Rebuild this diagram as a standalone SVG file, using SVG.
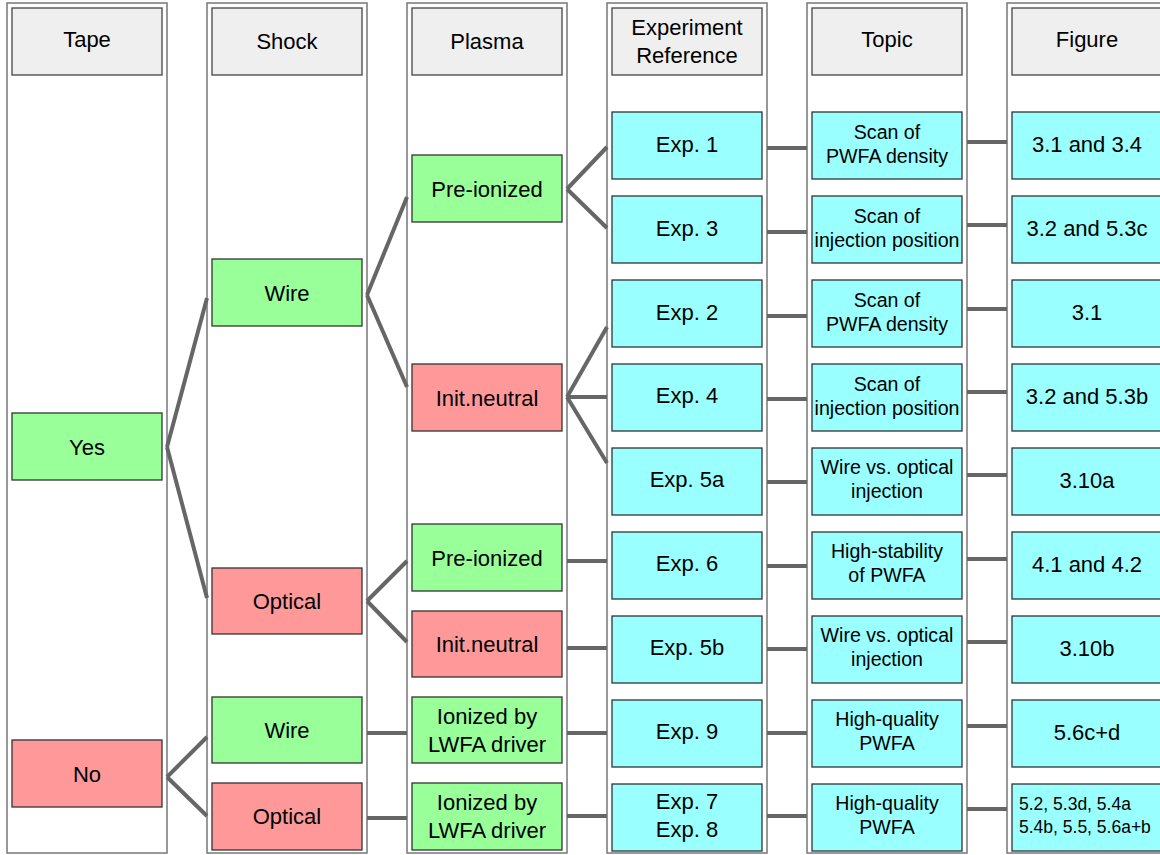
<svg xmlns="http://www.w3.org/2000/svg" width="1160" height="855" viewBox="0 0 1160 855">
<style>
.frame{fill:#fff;stroke:#777;stroke-width:1.5}
.hdr{fill:#efefef;stroke:#444;stroke-width:1.3}
.g{fill:#99ff99;stroke:#333;stroke-width:1.3}
.r{fill:#ff9999;stroke:#333;stroke-width:1.3}
.c{fill:#99ffff;stroke:#333;stroke-width:1.3}
text{font-family:"Liberation Sans",Arial,sans-serif;fill:#000;text-anchor:middle}
.t20{font-size:22px}
.t18{font-size:19.6px}
.t16{font-size:17.5px;text-anchor:start}
#connectors line{stroke:#666;stroke-width:4}
</style>
<rect width="1160" height="855" fill="#fff"/>
<g id="frames">
<rect class="frame" x="7" y="3" width="160" height="850"/>
<rect class="frame" x="207" y="3" width="160" height="850"/>
<rect class="frame" x="407" y="3" width="160" height="850"/>
<rect class="frame" x="607" y="3" width="160" height="850"/>
<rect class="frame" x="807" y="3" width="160" height="850"/>
<rect class="frame" x="1007" y="3" width="160" height="850"/>
</g>
<g id="connectors">
<line x1="167" y1="447" x2="207" y2="298"/>
<line x1="167" y1="447" x2="207" y2="598"/>
<line x1="167" y1="777" x2="207" y2="737"/>
<line x1="167" y1="777" x2="207" y2="816"/>
<line x1="367" y1="295" x2="407" y2="197"/>
<line x1="367" y1="295" x2="407" y2="387"/>
<line x1="367" y1="601" x2="407" y2="561"/>
<line x1="367" y1="601" x2="407" y2="642"/>
<line x1="367" y1="733" x2="407" y2="733"/>
<line x1="367" y1="818" x2="407" y2="818"/>
<line x1="567" y1="189" x2="607" y2="147"/>
<line x1="567" y1="189" x2="607" y2="228"/>
<line x1="567" y1="397" x2="607" y2="327"/>
<line x1="567" y1="397" x2="607" y2="397"/>
<line x1="567" y1="397" x2="607" y2="463"/>
<line x1="567" y1="561" x2="607" y2="561"/>
<line x1="567" y1="648" x2="607" y2="648"/>
<line x1="567" y1="733" x2="607" y2="733"/>
<line x1="567" y1="816" x2="607" y2="816"/>
<line x1="767" y1="148" x2="807" y2="148"/>
<line x1="767" y1="232" x2="807" y2="232"/>
<line x1="767" y1="316" x2="807" y2="316"/>
<line x1="767" y1="399" x2="807" y2="399"/>
<line x1="767" y1="482" x2="807" y2="482"/>
<line x1="767" y1="566" x2="807" y2="566"/>
<line x1="767" y1="649" x2="807" y2="649"/>
<line x1="767" y1="733" x2="807" y2="733"/>
<line x1="767" y1="816" x2="807" y2="816"/>
<line x1="967" y1="142" x2="1007" y2="142"/>
<line x1="967" y1="225" x2="1007" y2="225"/>
<line x1="967" y1="309" x2="1007" y2="309"/>
<line x1="967" y1="392" x2="1007" y2="392"/>
<line x1="967" y1="475" x2="1007" y2="475"/>
<line x1="967" y1="559" x2="1007" y2="559"/>
<line x1="967" y1="642" x2="1007" y2="642"/>
<line x1="967" y1="726" x2="1007" y2="726"/>
<line x1="967" y1="809" x2="1007" y2="809"/>
</g>
<g id="h-tape"><rect class="hdr" x="12" y="8" width="150" height="67"/><text class="t20" x="87" y="47">Tape</text></g>
<g id="h-shock"><rect class="hdr" x="212" y="8" width="150" height="67"/><text class="t20" x="287" y="49">Shock</text></g>
<g id="h-plasma"><rect class="hdr" x="412" y="8" width="150" height="67"/><text class="t20" x="487" y="49">Plasma</text></g>
<g id="h-exp"><rect class="hdr" x="612" y="8" width="150" height="67"/><text class="t20" x="687" y="35">Experiment</text><text class="t20" x="687" y="63">Reference</text></g>
<g id="h-topic"><rect class="hdr" x="812" y="8" width="150" height="67"/><text class="t20" x="887" y="47">Topic</text></g>
<g id="h-figure"><rect class="hdr" x="1012" y="8" width="150" height="67"/><text class="t20" x="1087" y="47">Figure</text></g>

<g id="tape-yes"><rect class="g" x="12" y="413" width="150" height="67"/><text class="t20" x="87" y="455">Yes</text></g>
<g id="tape-no"><rect class="r" x="12" y="740" width="150" height="67"/><text class="t20" x="87" y="782">No</text></g>

<g id="shock-wire1"><rect class="g" x="212" y="259" width="150" height="67"/><text class="t20" x="287" y="301">Wire</text></g>
<g id="shock-optical1"><rect class="r" x="212" y="568" width="150" height="66"/><text class="t20" x="287" y="609">Optical</text></g>
<g id="shock-wire2"><rect class="g" x="212" y="697" width="150" height="66"/><text class="t20" x="287" y="738">Wire</text></g>
<g id="shock-optical2"><rect class="r" x="212" y="783" width="150" height="67"/><text class="t20" x="287" y="824">Optical</text></g>

<g id="plasma-pre1"><rect class="g" x="412" y="155" width="150" height="67"/><text class="t20" x="487" y="197">Pre-ionized</text></g>
<g id="plasma-neu1"><rect class="r" x="412" y="364" width="150" height="67"/><text class="t20" x="487" y="406">Init.neutral</text></g>
<g id="plasma-pre2"><rect class="g" x="412" y="524" width="150" height="67"/><text class="t20" x="487" y="566">Pre-ionized</text></g>
<g id="plasma-neu2"><rect class="r" x="412" y="611" width="150" height="66"/><text class="t20" x="487" y="652">Init.neutral</text></g>
<g id="plasma-ion1"><rect class="g" x="412" y="697" width="150" height="66"/><text class="t20" x="487" y="724">Ionized by</text><text class="t20" x="487" y="752">LWFA driver</text></g>
<g id="plasma-ion2"><rect class="g" x="412" y="783" width="150" height="67"/><text class="t20" x="487" y="810">Ionized by</text><text class="t20" x="487" y="838">LWFA driver</text></g>

<g id="exp1"><rect class="c" x="612" y="112" width="150" height="67"/><text class="t20" x="687" y="152">Exp. 1</text></g>
<g id="exp3"><rect class="c" x="612" y="196" width="150" height="67"/><text class="t20" x="687" y="236">Exp. 3</text></g>
<g id="exp2"><rect class="c" x="612" y="280" width="150" height="67"/><text class="t20" x="687" y="320">Exp. 2</text></g>
<g id="exp4"><rect class="c" x="612" y="364" width="150" height="67"/><text class="t20" x="687" y="403">Exp. 4</text></g>
<g id="exp5a"><rect class="c" x="612" y="448" width="150" height="67"/><text class="t20" x="687" y="487">Exp. 5a</text></g>
<g id="exp6"><rect class="c" x="612" y="532" width="150" height="67"/><text class="t20" x="687" y="571">Exp. 6</text></g>
<g id="exp5b"><rect class="c" x="612" y="616" width="150" height="67"/><text class="t20" x="687" y="655">Exp. 5b</text></g>
<g id="exp9"><rect class="c" x="612" y="700" width="150" height="67"/><text class="t20" x="687" y="739">Exp. 9</text></g>
<g id="exp78"><rect class="c" x="612" y="784" width="150" height="67"/><text class="t20" x="687" y="809">Exp. 7</text><text class="t20" x="687" y="837">Exp. 8</text></g>

<g id="topic1"><rect class="c" x="812" y="112" width="150" height="67"/><text class="t18" x="887" y="139">Scan of</text><text class="t18" x="887" y="163">PWFA density</text></g>
<g id="topic2"><rect class="c" x="812" y="196" width="150" height="67"/><text class="t18" x="887" y="223">Scan of</text><text class="t18" x="887" y="247">injection position</text></g>
<g id="topic3"><rect class="c" x="812" y="280" width="150" height="67"/><text class="t18" x="887" y="307">Scan of</text><text class="t18" x="887" y="331">PWFA density</text></g>
<g id="topic4"><rect class="c" x="812" y="364" width="150" height="67"/><text class="t18" x="887" y="391">Scan of</text><text class="t18" x="887" y="415">injection position</text></g>
<g id="topic5"><rect class="c" x="812" y="448" width="150" height="67"/><text class="t18" x="887" y="474">Wire vs. optical</text><text class="t18" x="887" y="498">injection</text></g>
<g id="topic6"><rect class="c" x="812" y="532" width="150" height="67"/><text class="t18" x="887" y="558">High-stability</text><text class="t18" x="887" y="582">of PWFA</text></g>
<g id="topic7"><rect class="c" x="812" y="616" width="150" height="67"/><text class="t18" x="887" y="642">Wire vs. optical</text><text class="t18" x="887" y="666">injection</text></g>
<g id="topic8"><rect class="c" x="812" y="700" width="150" height="67"/><text class="t18" x="887" y="726">High-quality</text><text class="t18" x="887" y="750">PWFA</text></g>
<g id="topic9"><rect class="c" x="812" y="784" width="150" height="67"/><text class="t18" x="887" y="810">High-quality</text><text class="t18" x="887" y="834">PWFA</text></g>

<g id="fig1"><rect class="c" x="1012" y="112" width="150" height="67"/><text class="t20" x="1087" y="152">3.1 and 3.4</text></g>
<g id="fig2"><rect class="c" x="1012" y="196" width="150" height="67"/><text class="t20" x="1087" y="236">3.2 and 5.3c</text></g>
<g id="fig3"><rect class="c" x="1012" y="280" width="150" height="67"/><text class="t20" x="1087" y="320">3.1</text></g>
<g id="fig4"><rect class="c" x="1012" y="364" width="150" height="67"/><text class="t20" x="1087" y="404">3.2 and 5.3b</text></g>
<g id="fig5"><rect class="c" x="1012" y="448" width="150" height="67"/><text class="t20" x="1087" y="488">3.10a</text></g>
<g id="fig6"><rect class="c" x="1012" y="532" width="150" height="67"/><text class="t20" x="1087" y="572">4.1 and 4.2</text></g>
<g id="fig7"><rect class="c" x="1012" y="616" width="150" height="67"/><text class="t20" x="1087" y="656">3.10b</text></g>
<g id="fig8"><rect class="c" x="1012" y="700" width="150" height="67"/><text class="t20" x="1087" y="740">5.6c+d</text></g>
<g id="fig9"><rect class="c" x="1012" y="784" width="150" height="67"/><text class="t16" x="1019" y="810">5.2, 5.3d, 5.4a</text><text class="t16" x="1019" y="833">5.4b, 5.5, 5.6a+b</text></g>
</svg>
